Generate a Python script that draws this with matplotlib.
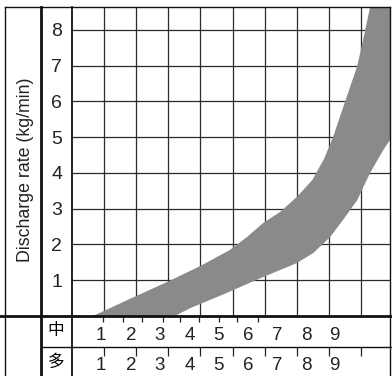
import matplotlib.pyplot as plt
from matplotlib.lines import Line2D

plt.rcParams['font.family'] = ['Liberation Sans', 'Noto Sans CJK JP', 'DejaVu Sans']

# band edges (x in grid units, y in kg/min)
upper_x = [0.65, 2.0, 2.96, 4.0, 4.92, 5.45, 5.95, 6.48, 7.0, 7.48, 7.85,
           8.13, 8.50, 8.88, 9.13, 9.28, 9.32]
upper_y = [0.0, 0.56, 0.95, 1.4, 1.85, 2.21, 2.60, 2.91, 3.33, 3.80, 4.4,
           5.01, 5.99, 6.99, 8.0, 8.64, 9.0]
lower_x = [3.2, 3.68, 4.7, 5.95, 7.0, 7.51, 8.04, 8.44, 8.88, 9.28, 9.69, 9.9, 10.6]
lower_y = [0.0, 0.22, 0.6, 1.09, 1.48, 1.76, 2.21, 2.69, 3.24, 4.0, 4.64, 4.92, 9.0]

y_ticks = [1, 2, 3, 4, 5, 6, 7, 8]
grid_x = [1, 2, 3, 4, 5, 6, 7, 8, 9]
scale_labels = ['1', '2', '3', '4', '5', '6', '7', '8', '9']
label_pos = [0.90, 1.84, 2.74, 3.68, 4.55, 5.48, 6.39, 7.29, 8.16]
zhong_ticks = [0.97, 1.59, 2.18, 2.83, 3.36, 3.96, 4.58, 5.14, 5.79]
duo_ticks = [1, 2, 3, 4, 5, 6, 7, 8, 9]

W, H = 392, 376
fig = plt.figure(figsize=(W / 100, H / 100), dpi=100)


def rect(x0, y0, x1, y1):
    return [x0 / W, 1 - y1 / H, (x1 - x0) / W, (y1 - y0) / H]


def fline(x0, y0, x1, y1, lw=1.0):
    fig.add_artist(Line2D([x0 / W, x1 / W], [1 - y0 / H, 1 - y1 / H],
                          transform=fig.transFigure, color='#111111', lw=lw))


xmax = 9.9
ax = fig.add_axes(rect(72, 7, 390, 316))
ax.set_xlim(0, xmax)
ax.set_ylim(0, 8.64)
ax.set_xticks(grid_x)
ax.set_yticks(y_ticks)
ax.set_xticklabels([])
ax.grid(True, color='#2a2a2a', lw=0.9)
ax.set_axisbelow(True)
ax.tick_params(length=0, labelsize=14, pad=11)
for lab in ax.get_yticklabels():
    lab.set_horizontalalignment('center')
    lab.set_color('#222222')
for s in ax.spines.values():
    s.set_visible(False)

ax.fill(upper_x + lower_x[::-1], upper_y + lower_y[::-1],
        color='#8a8a8a', lw=0, zorder=2)

# bottom scale rows
for (y0, y1, ticks, tlen) in [(316, 347, zhong_ticks, 0.2), (347, 376, duo_ticks, 0.3)]:
    b = fig.add_axes(rect(72, y0, 390, y1))
    b.set_xlim(0, xmax)
    b.set_ylim(0, 1)
    b.axis('off')
    b.vlines(ticks, 1 - tlen, 1, color='#222222', lw=0.9)
    for p, t in zip(label_pos, scale_labels):
        b.text(p, 0.36, t, ha='center', va='center', fontsize=13.5, color='#222222')

# frame
fline(5, 7, 390, 7)
fline(5, 7, 5, 376)
fline(390, 7, 390, 376)
fline(41, 7, 41, 376, lw=2)
fline(72, 7, 72, 376, lw=1.3)
fline(0, 316, 392, 316, lw=2)
fline(41, 347, 392, 347)

fig.text(26 / W, 1 - 170 / H, 'Discharge rate (kg/min)', rotation=90,
         ha='center', va='center', fontsize=12.8, color='#222222')
fig.text(56 / W, 1 - 330 / H, '中', ha='center', va='center', fontsize=12)
fig.text(56 / W, 1 - 362 / H, '多', ha='center', va='center', fontsize=12)

fig.savefig('out.png', dpi=100)
